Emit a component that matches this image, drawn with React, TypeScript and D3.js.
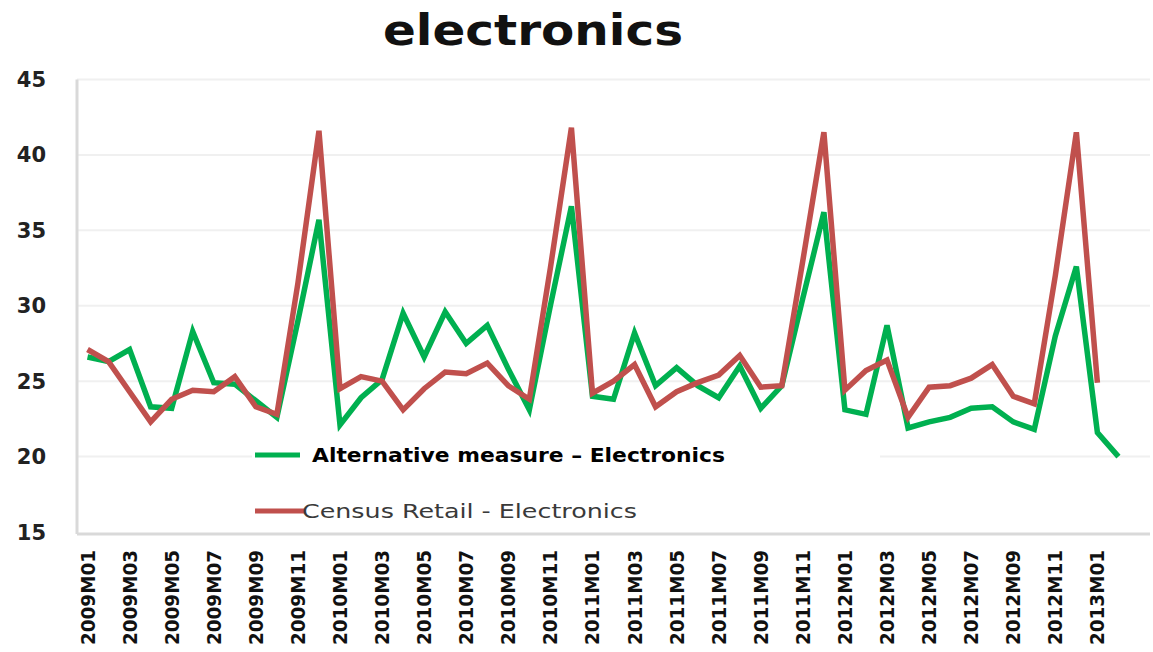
import React from 'react';
import * as d3 from 'd3';

// Monthly categories on the x axis
const months: string[] = [
  '2009M01', '2009M02', '2009M03', '2009M04', '2009M05', '2009M06', '2009M07', '2009M08', '2009M09', '2009M10', '2009M11', '2009M12',
  '2010M01', '2010M02', '2010M03', '2010M04', '2010M05', '2010M06', '2010M07', '2010M08', '2010M09', '2010M10', '2010M11', '2010M12',
  '2011M01', '2011M02', '2011M03', '2011M04', '2011M05', '2011M06', '2011M07', '2011M08', '2011M09', '2011M10', '2011M11', '2011M12',
  '2012M01', '2012M02', '2012M03', '2012M04', '2012M05', '2012M06', '2012M07', '2012M08', '2012M09', '2012M10', '2012M11', '2012M12',
  '2013M01', '2013M02', '2013M03',
];

// Alternative measure - Electronics (green)
const alternative: number[] = [
  26.6, 26.3, 27.1, 23.3, 23.2, 28.3, 24.9, 24.8, 23.7, 22.6,
  29.0, 35.7, 22.1, 23.9, 25.1, 29.5, 26.6, 29.6, 27.5, 28.7,
  25.8, 23.1, 30.0, 36.6, 24.0, 23.8, 28.2, 24.7, 25.9, 24.7,
  23.9, 26.0, 23.2, 24.7, 30.5, 36.2, 23.1, 22.8, 28.7, 21.9,
  22.3, 22.6, 23.2, 23.3, 22.3, 21.8, 28.0, 32.6, 21.6, 20.0,
];

// Census Retail - Electronics (red)
const census: number[] = [
  27.1, 26.3, 24.3, 22.3, 23.8, 24.4, 24.3, 25.3, 23.3, 22.8,
  31.5, 41.6, 24.5, 25.3, 25.0, 23.1, 24.5, 25.6, 25.5, 26.2,
  24.7, 23.8, 32.5, 41.8, 24.2, 25.0, 26.1, 23.3, 24.3, 24.9,
  25.4, 26.7, 24.6, 24.7, 33.0, 41.5, 24.4, 25.7, 26.4, 22.6,
  24.6, 24.7, 25.2, 26.1, 24.0, 23.5, 32.0, 41.5, 24.9,
];

const yTicks: number[] = [15, 20, 25, 30, 35, 40, 45];
// every second month gets a label, up to 2013M01
const xLabels: string[] = months.filter((_, i) => i % 2 === 0 && i <= 48);

const W = 1153;
const H = 652;
const left = 77;
const right = 1150;
const top = 79.5;
const bottom = 532;

const GREEN = '#00b050';
const RED = '#c0504d';

export default function App() {
  const x = d3.scaleBand<string>().domain(months).range([left, right]).padding(0);
  const y = d3.scaleLinear().domain([15, 45]).range([bottom, top]);
  const cx = (m: string) => (x(m) ?? 0) + x.bandwidth() / 2;

  const line = d3
    .line<number>()
    .x((_, i) => cx(months[i]))
    .y((d) => y(d));

  return (
    <svg
      width={W}
      height={H}
      style={{ position: 'absolute', left: 0, top: 0, background: '#fff' }}
      fontFamily="DejaVu Sans, Verdana, sans-serif"
    >
      {/* title */}
      <text x={533} y={45} textAnchor="middle" fontSize={42} fontWeight="bold" fill="#111" textLength={300} lengthAdjust="spacingAndGlyphs">
        electronics
      </text>

      {/* gridlines */}
      {yTicks.slice(1).map((t) => (
        <line key={t} x1={left} x2={right} y1={y(t)} y2={y(t)} stroke="#f0f0f0" strokeWidth={2} />
      ))}

      {/* legend box hides the gridline behind it */}
      <rect x={252} y={436} width={628} height={92} fill="#fff" />

      {/* axes */}
      <line x1={left} x2={left} y1={top} y2={bottom + 2} stroke="#d9d9d9" strokeWidth={3} />
      <line x1={left} x2={right} y1={bottom + 2} y2={bottom + 2} stroke="#d9d9d9" strokeWidth={3} />

      {/* y tick labels */}
      {yTicks.map((t) => (
        <text key={t} x={46} y={y(t)} dy="0.36em" textAnchor="end" fontSize={21} fontWeight="bold" fill="#222">
          {t}
        </text>
      ))}

      {/* x tick labels */}
      {xLabels.map((m) => (
        <text
          key={m}
          transform={`translate(${cx(m) + 7},${550}) rotate(-90)`}
          textAnchor="end"
          fontSize={20}
          fontWeight="bold"
          fill="#111"
          textLength={95}
          lengthAdjust="spacingAndGlyphs"
        >
          {m}
        </text>
      ))}

      {/* series */}
      <path d={line(alternative) ?? ''} fill="none" stroke={GREEN} strokeWidth={5.5} strokeLinejoin="miter" />
      <path d={line(census) ?? ''} fill="none" stroke={RED} strokeWidth={5.5} strokeLinejoin="miter" />

      {/* legend */}
      <line x1={255} x2={300} y1={455} y2={455} stroke={GREEN} strokeWidth={5} />
      <text x={312} y={462} fontSize={19} fontWeight="bold" fill="#000" textLength={413} lengthAdjust="spacingAndGlyphs">
        Alternative measure – Electronics
      </text>
      <line x1={255} x2={304} y1={511} y2={511} stroke={RED} strokeWidth={5} />
      <text x={302} y={518} fontSize={20} fill="#3a3a3a" textLength={335} lengthAdjust="spacingAndGlyphs">
        Census Retail - Electronics
      </text>
    </svg>
  );
}
